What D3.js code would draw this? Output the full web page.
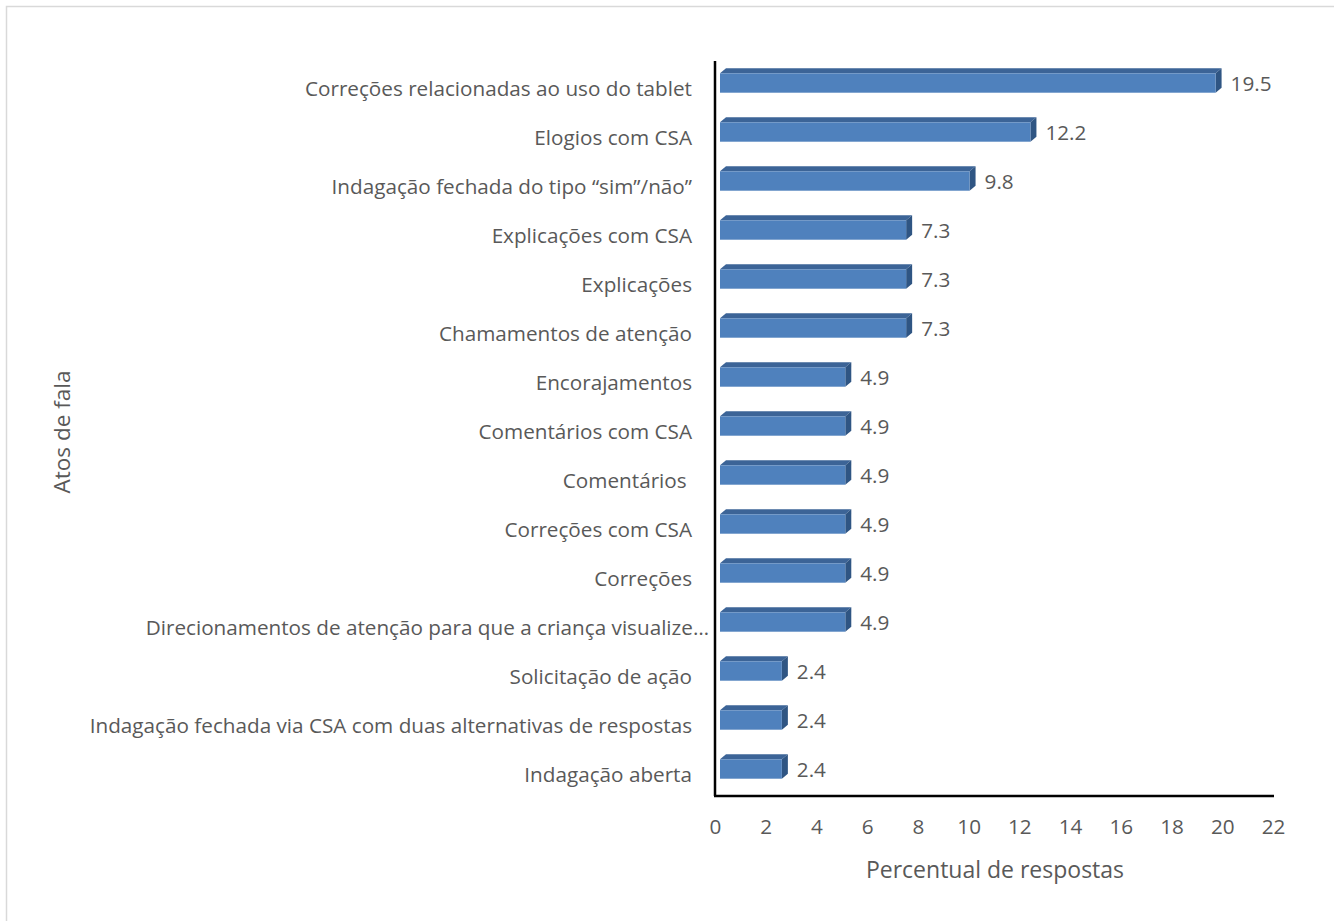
<!DOCTYPE html>
<html>
<head>
<meta charset="utf-8">
<script src="https://cdn.jsdelivr.net/npm/d3@7"></script>
<style>
  html, body { margin: 0; padding: 0; background: #fff; overflow: hidden; }
  svg { display: block; }
  text { font-family: "Open Sans", "Noto Sans", sans-serif; fill: #595959; }
</style>
</head>
<body>
<svg id="chart" width="1334" height="921"></svg>
<script>
// Speech acts and their share of responses (%)
const categories = [
  "Correções relacionadas ao uso do tablet",
  "Elogios com CSA",
  "Indagação fechada do tipo “sim”/não”",
  "Explicações com CSA",
  "Explicações",
  "Chamamentos de atenção",
  "Encorajamentos",
  "Comentários com CSA",
  "Comentários ",
  "Correções com CSA",
  "Correções",
  "Direcionamentos de atenção para que a criança visualize…",
  "Solicitação de ação",
  "Indagação fechada via CSA com duas alternativas de respostas",
  "Indagação aberta"
];
const values = [19.5, 12.2, 9.8, 7.3, 7.3, 7.3, 4.9, 4.9, 4.9, 4.9, 4.9, 4.9, 2.4, 2.4, 2.4];
const xTicks = [0, 2, 4, 6, 8, 10, 12, 14, 16, 18, 20, 22];
const xTitle = "Percentual de respostas";
const yTitle = "Atos de fala";

const svg = d3.select("#chart");
const labelSize = 20.7;

// outer chart frame (left and top edges lie inside the canvas)
svg.append("path")
  .attr("d", "M6.5,921V6.5H1334")
  .attr("fill", "none")
  .attr("stroke", "#d9d9d9").attr("stroke-width", 1.5);

const plot = { left: 715, right: 1273, top: 61, bottom: 796 };

const x = d3.scaleLinear().domain([0, 22]).range([plot.left, plot.right]);
const y = d3.scaleBand().domain(categories).range([plot.top, plot.bottom]).paddingInner(0).paddingOuter(0);

// 3D bar geometry
const depthX = 6, depthY = 5;
const frontTopOff = -12.2, frontBotOff = 7.2;

const bars = svg.append("g").selectAll("g.bar")
  .data(categories.map((c, i) => ({ c, v: values[i] })))
  .join("g").attr("class", "bar");

bars.each(function(d) {
  const g = d3.select(this);
  const cy = y(d.c) + y.bandwidth() / 2;
  const x0 = x(0) + 5;
  const x1 = x(d.v) + 6;
  const t = cy + frontTopOff, b = cy + frontBotOff;
  // top face
  g.append("path")
    .attr("d", `M${x0},${t}L${x0 + depthX},${t - depthY}L${x1 + depthX},${t - depthY}L${x1},${t}Z`)
    .attr("fill", "#3c6497");
  // side face
  g.append("path")
    .attr("d", `M${x1},${t}L${x1 + depthX},${t - depthY}L${x1 + depthX},${b - depthY}L${x1},${b}Z`)
    .attr("fill", "#2f5583");
  // front face
  g.append("rect")
    .attr("x", x0).attr("y", t)
    .attr("width", x1 - x0).attr("height", b - t)
    .attr("fill", "#4f81bd");
  // value label
  g.append("text")
    .attr("x", x1 + depthX + 9)
    .attr("y", cy - 1.5)
    .attr("dy", "0.35em")
    .attr("font-size", labelSize)
    .text(d3.format(".1f")(d.v));
});

// category labels
svg.append("g").selectAll("text")
  .data(categories)
  .join("text")
  .attr("x", d => d.endsWith("…") ? 709 : 692)
  .attr("y", d => y(d) + y.bandwidth() / 2 + 3)
  .attr("dy", "0.35em")
  .attr("text-anchor", "end")
  .attr("font-size", labelSize)
  .attr("xml:space", "preserve")
  .style("white-space", "pre")
  .text(d => d);

// x axis
const xAxis = svg.append("g")
  .attr("transform", `translate(0,${plot.bottom})`)
  .call(d3.axisBottom(x).tickValues(xTicks).tickSize(0).tickPadding(23).tickFormat(d3.format("d")));
xAxis.select(".domain").attr("stroke", "#000").attr("stroke-width", 2.5)
  .attr("d", `M${plot.left - 1},0H${plot.right + 1}`);
xAxis.selectAll("text").attr("font-size", labelSize).attr("fill", "#595959")
  .attr("font-family", "\"Open Sans\", sans-serif");

// y axis line
svg.append("line")
  .attr("x1", plot.left).attr("x2", plot.left)
  .attr("y1", plot.top).attr("y2", plot.bottom)
  .attr("stroke", "#000").attr("stroke-width", 2.5);

// axis titles
svg.append("text")
  .attr("x", 995)
  .attr("y", 870).attr("dy", "0.35em")
  .attr("text-anchor", "middle").attr("font-size", 23)
  .text(xTitle);

svg.append("text")
  .attr("transform", `translate(62,${432}) rotate(-90)`)
  .attr("dy", "0.35em")
  .attr("text-anchor", "middle").attr("font-size", 22.5)
  .text(yTitle);
</script>
</body>
</html>
